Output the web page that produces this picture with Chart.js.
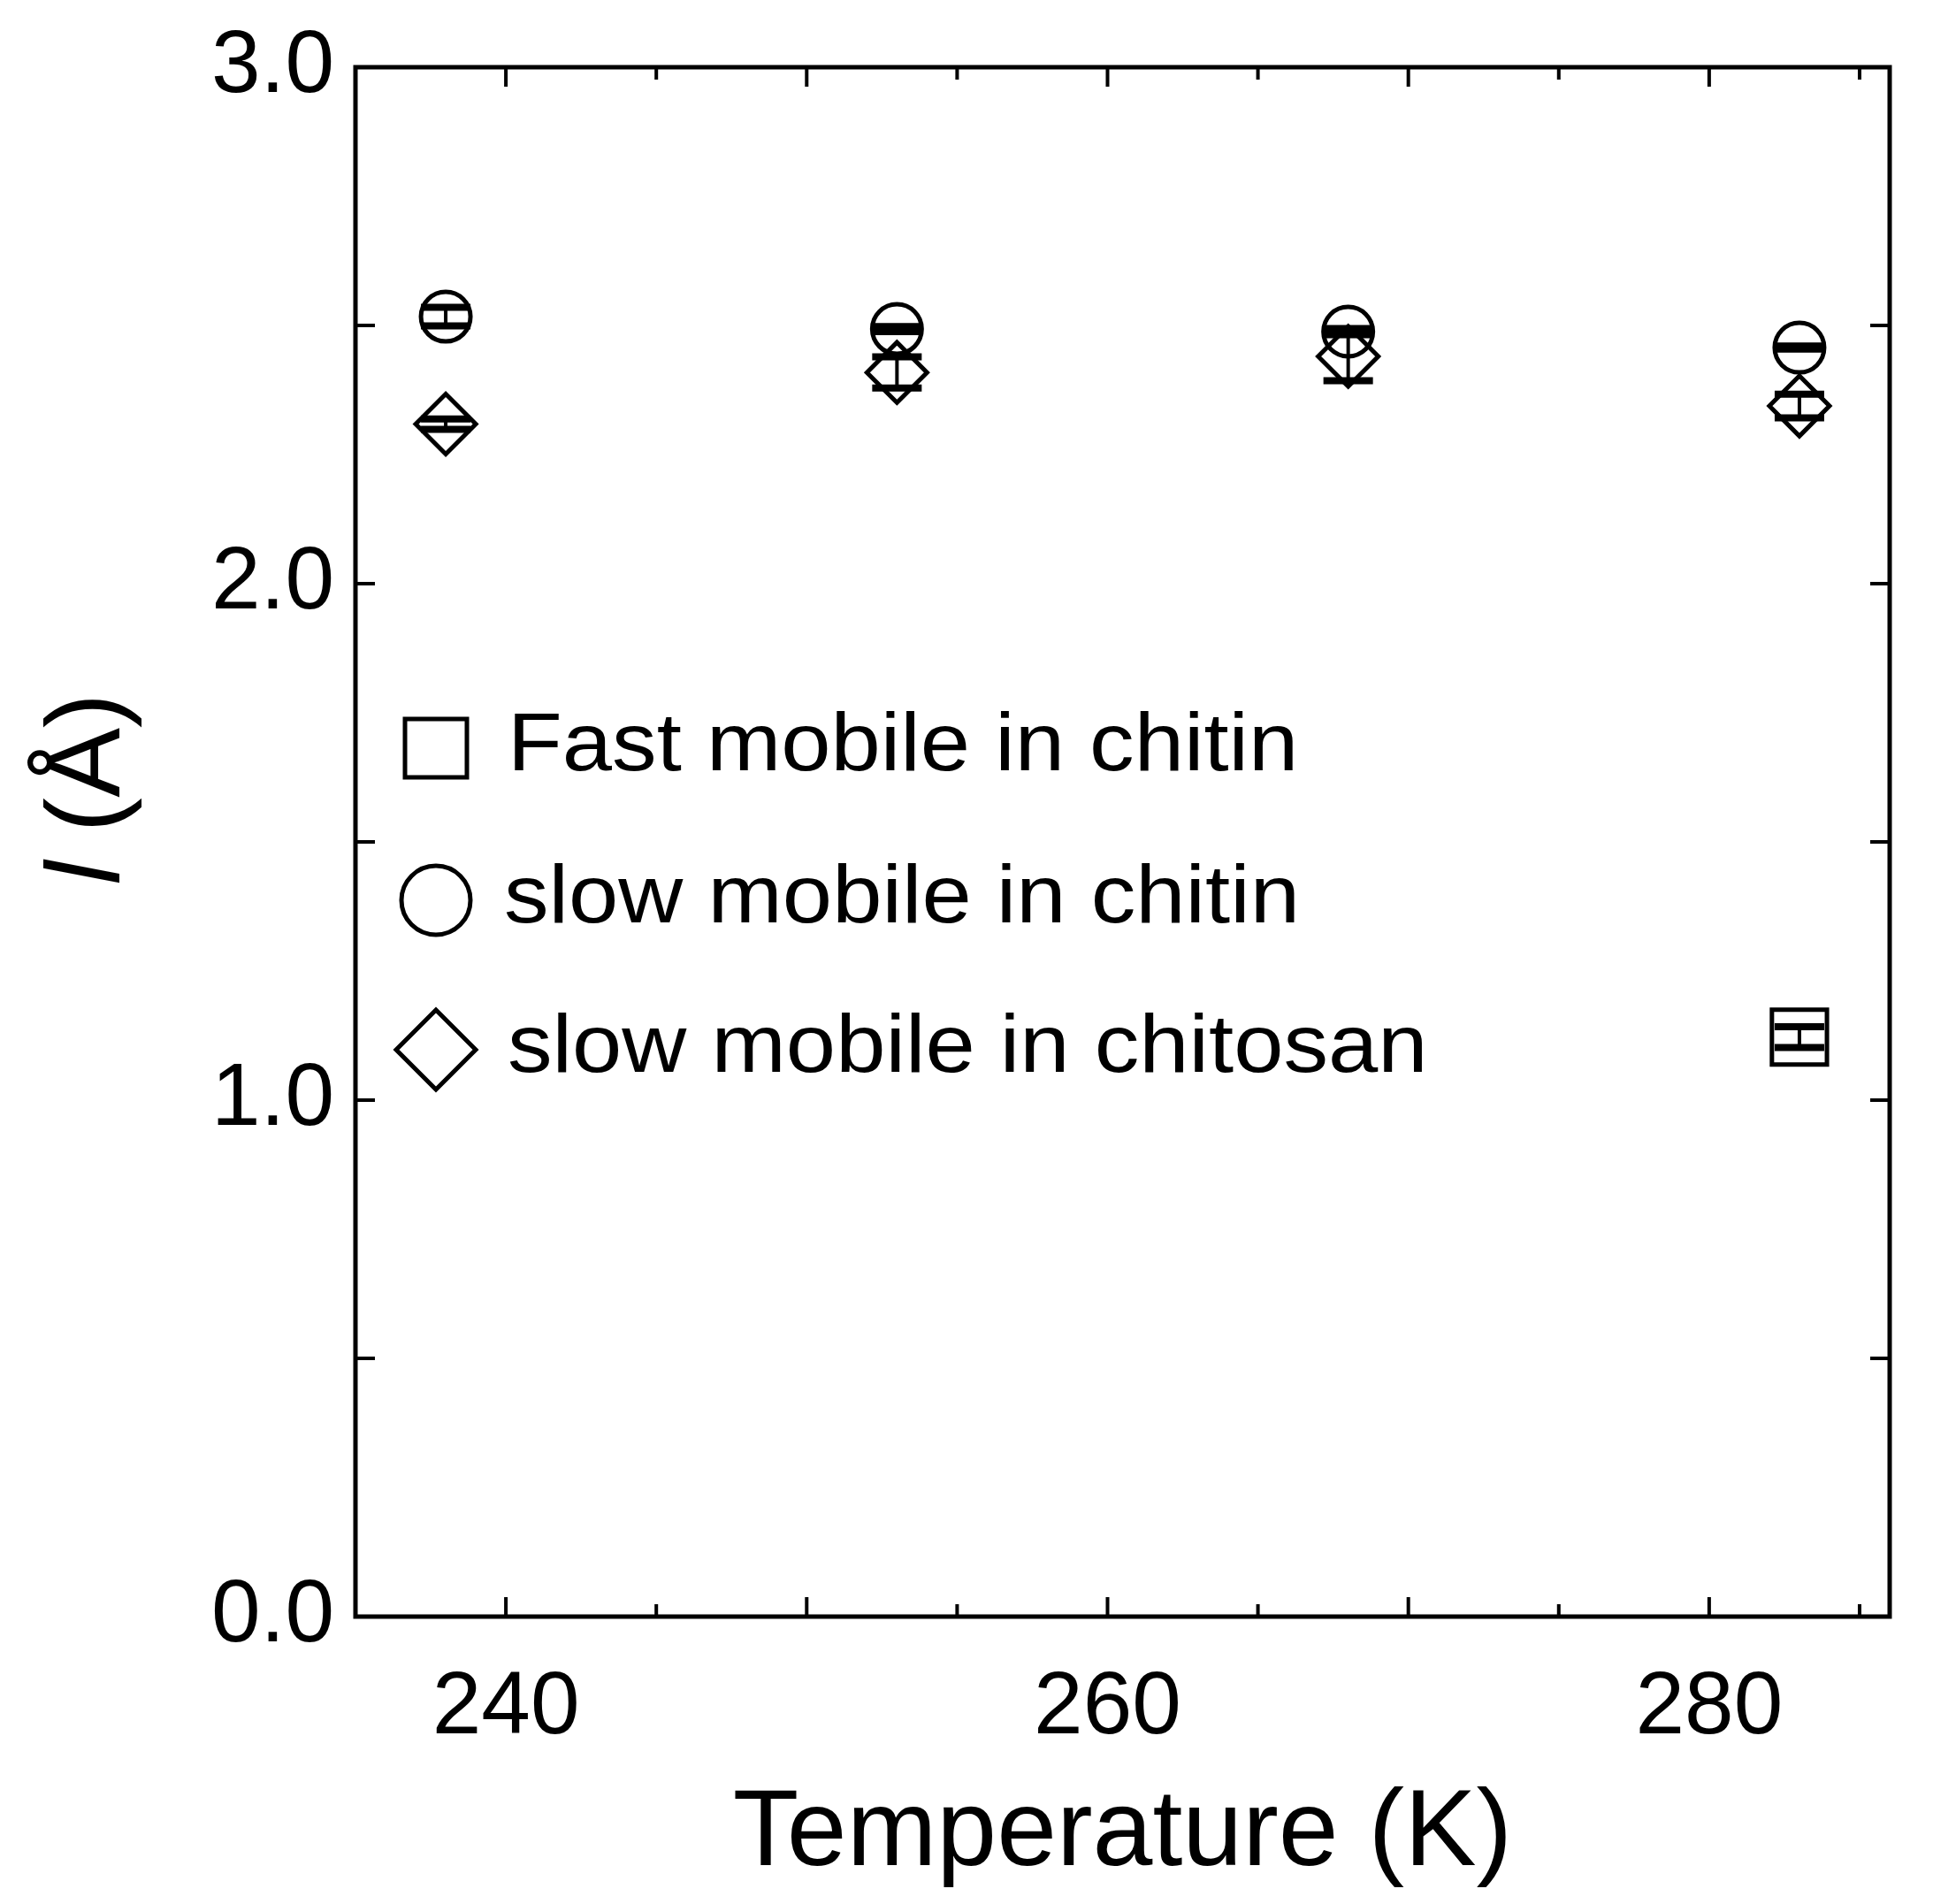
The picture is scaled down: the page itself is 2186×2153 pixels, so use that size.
<!DOCTYPE html>
<html><head><meta charset="utf-8">
<script src="https://cdn.jsdelivr.net/npm/chart.js@4.4.1/dist/chart.umd.min.js"></script>
<style>html,body{margin:0;background:#fff}#wrap{width:2186px;height:2153px}</style>
</head><body><div id="wrap"><canvas id="c"></canvas></div>
<script>
// data
const temps = [238, 253, 268, 283];
const fastChitin = [null, null, null, 1.122];
const fastChitinErr = [0, 0, 0, 0.02];
const slowChitin = [2.517, 2.493, 2.488, 2.457];
const slowChitinErr = [0.018, 0.005, 0.006, 0.003];
const slowChitosan = [2.309, 2.409, 2.44, 2.344];
const slowChitosanErr = [0.01, 0.03, 0.047, 0.023];
const legendNames = ["Fast mobile in chitin", "slow mobile in chitin", "slow mobile in chitosan"];
const FONT = "'Liberation Sans', Arial, sans-serif";

const pts = (vals)=>temps.map((t,i)=>vals[i]==null?null:{x:t,y:vals[i]}).filter(Boolean);
const errs = [fastChitinErr, slowChitinErr, slowChitosanErr];
const styles = ["rect","circle","rectRot"];
const radii = [44, 28, 34];

const frame = {
  id:"frame",
  afterDatasetsDraw(ch){
    const {ctx, chartArea:a, scales:{x,y}} = ch;
    ctx.save();
    ctx.strokeStyle="#000";
    // error bars
    ch.data.datasets.forEach((ds,di)=>{
      ds.data.forEach(p=>{
        const i = temps.indexOf(p.x), e = errs[di][i];
        if(!e) return;
        const px=x.getPixelForValue(p.x), y1=y.getPixelForValue(p.y+e), y2=y.getPixelForValue(p.y-e);
        ctx.lineWidth=4; ctx.beginPath(); ctx.moveTo(px,y1); ctx.lineTo(px,y2); ctx.stroke();
        ctx.lineWidth=8; ctx.beginPath();
        ctx.moveTo(px-28,y1); ctx.lineTo(px+28,y1); ctx.moveTo(px-28,y2); ctx.lineTo(px+28,y2); ctx.stroke();
      });
    });
    // box + inward ticks
    ctx.lineWidth=5;
    ctx.strokeRect(a.left,a.top,a.right-a.left,a.bottom-a.top);
    ctx.lineWidth=4;
    for(let v=0; v<=3.001; v+=0.5){
      const py=y.getPixelForValue(v);
      ctx.beginPath(); ctx.moveTo(a.left,py); ctx.lineTo(a.left+22,py);
      ctx.moveTo(a.right,py); ctx.lineTo(a.right-22,py); ctx.stroke();
    }
    for(let v=240; v<=285; v+=5){
      const px=x.getPixelForValue(v), L = v%10===0?22:14;
      ctx.beginPath(); ctx.moveTo(px,a.bottom); ctx.lineTo(px,a.bottom-L);
      ctx.moveTo(px,a.top); ctx.lineTo(px,a.top+L); ctx.stroke();
    }
    // legend
    ctx.fillStyle="#000"; ctx.textBaseline="middle";
    const ly=[846,1018,1187];
    legendNames.forEach((n,i)=>{
      const mx=a.left+91, my=ly[i];
      ctx.lineWidth=5; ctx.beginPath();
      if(i===0) ctx.rect(mx-35,my-33,70,66);
      else if(i===1) ctx.arc(mx,my,39,0,Math.PI*2);
      else { ctx.moveTo(mx,my-45); ctx.lineTo(mx+45,my); ctx.lineTo(mx,my+45); ctx.lineTo(mx-45,my); ctx.closePath(); }
      ctx.stroke();
      ctx.save();
      ctx.translate(a.left+(i===1?168:172), my); ctx.scale(1.1,1);
      ctx.font = "92px "+FONT; ctx.fillText(n, 0, 0);
      ctx.restore();
    });
    // y title
    ctx.translate(102,(a.top+a.bottom)/2-60); ctx.rotate(-Math.PI/2);
    const t1="l", t2=" (Å)";
    ctx.font="118px "+FONT; const w2=ctx.measureText(t2).width;
    ctx.font="italic 118px "+FONT; const w1=ctx.measureText(t1).width;
    ctx.textAlign="left";
    ctx.fillText(t1,-(w1+w2)/2,0);
    ctx.font="118px "+FONT; ctx.fillText(t2,-(w1+w2)/2+w1,0);
    ctx.restore();
  }
};

new Chart(document.getElementById("c"),{
  type:"scatter",
  data:{datasets:[fastChitin,slowChitin,slowChitosan].map((v,i)=>({
    label:legendNames[i], data:pts(v), pointStyle:styles[i], pointRadius:radii[i],
    pointBackgroundColor:"rgba(0,0,0,0)", pointBorderColor:"#000", pointBorderWidth:5
  }))},
  options:{
    responsive:true, maintainAspectRatio:false, animation:false,
    layout:{padding:{top:70,right:33,left:0,bottom:0}},
    plugins:{legend:{display:false},tooltip:{enabled:false}},
    scales:{
      x:{type:"linear",min:235,max:286,
        afterFit(s){s.height=325;},
        grid:{display:false}, border:{display:false},
        ticks:{stepSize:5,autoSkip:false,padding:36,color:"#000",font:{size:100,family:FONT},
          callback:v=>v%20===0?String(v):""},
        title:{display:true,text:"Temperature (K)",color:"#000",font:{size:122,family:FONT},padding:{top:16}}},
      y:{min:0,max:3,
        afterFit(s){s.width=402;},
        grid:{display:false}, border:{display:false},
        ticks:{stepSize:0.5,autoSkip:false,padding:16,color:"#000",font:{size:100,family:FONT},
          callback:v=>Number.isInteger(v)?v.toFixed(1):""}}
    }
  },
  plugins:[frame]
});
</script></body></html>
